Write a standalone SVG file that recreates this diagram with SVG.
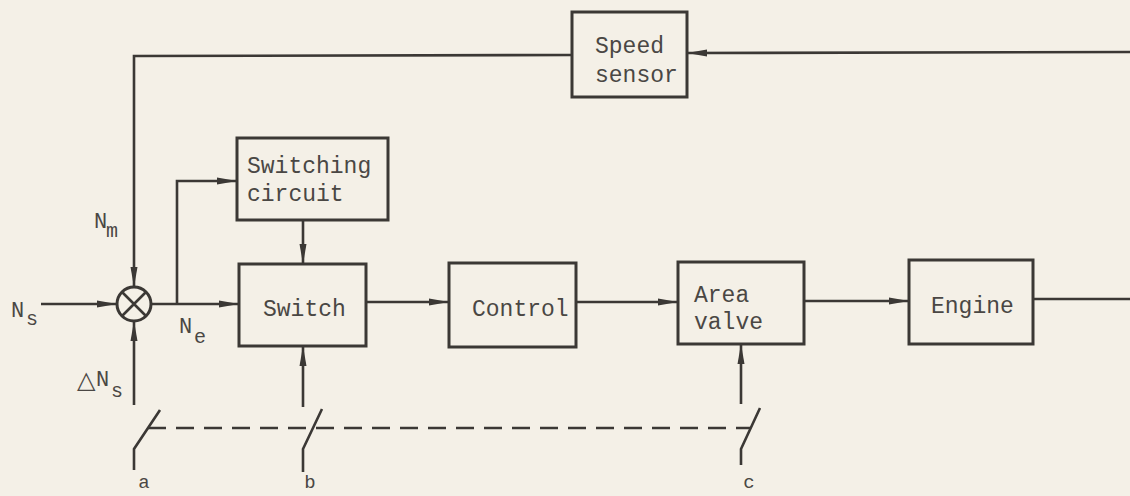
<svg xmlns="http://www.w3.org/2000/svg" width="1130" height="496" viewBox="0 0 1130 496">
<style>
  .box { fill: none; stroke: #3b3835; stroke-width: 3; }
  .ln { fill: none; stroke: #3b3835; stroke-width: 2.6; }
  .arr { marker-end: url(#ah); }
  .dash { fill: none; stroke: #3b3835; stroke-width: 2.6; stroke-dasharray: 18 10; }
  .t { font-family: "Liberation Mono", "DejaVu Sans Mono", monospace; font-size: 23px; fill: #4a4744; }
  .lbl { font-family: "Liberation Mono", "DejaVu Sans Mono", monospace; font-size: 22px; fill: #4a4744; }
  .sub { font-family: "Liberation Mono", "DejaVu Sans Mono", monospace; font-size: 20px; fill: #4a4744; }
  .sw { font-family: "Liberation Mono", "DejaVu Sans Mono", monospace; font-size: 19px; fill: #4a4744; }
  .tri { font-family: "DejaVu Sans", sans-serif; font-size: 24px; fill: #4a4744; }
</style>
<defs>
  <marker id="ah" markerUnits="userSpaceOnUse" markerWidth="20" markerHeight="9" refX="20" refY="4.5" orient="auto">
    <path d="M0,1 L20,4.5 L0,8 z" fill="#3b3835"/>
  </marker>
</defs>
<rect width="1130" height="496" fill="#f4f0e7"/>

<g id="connectors">
  <path class="ln arr" d="M1130,52 L687,53"/>
  <path class="ln arr" d="M572,55 L134,56 L134,287"/>
  <path class="ln arr" d="M41,304 L117,304"/>
  <path class="ln arr" d="M134,405 L134,321"/>
  <path class="ln arr" d="M151,304 L239,304"/>
  <path class="ln arr" d="M177,304 L177,181 L237,181"/>
  <path class="ln arr" d="M303,220 L303,264"/>
  <path class="ln arr" d="M366,302 L449,302"/>
  <path class="ln arr" d="M576,302 L678,302"/>
  <path class="ln arr" d="M804,301 L909,301"/>
  <path class="ln" d="M1033,299 L1130,299"/>
  <path class="ln arr" d="M303,407 L303,346"/>
  <path class="ln arr" d="M741,404 L741,344"/>
  <path class="ln" d="M134,470 L134,449 L160,410"/>
  <path class="ln" d="M303,472 L303,449 L322,409"/>
  <path class="ln" d="M741,465 L741,449 L760,408"/>
  <path class="dash" d="M148,428 L750,428"/>
</g>

<g id="sum">
  <circle cx="134" cy="304" r="17" fill="none" stroke="#3b3835" stroke-width="3"/>
  <path class="ln" d="M122,292 L146,316 M146,292 L122,316"/>
</g>

<g id="speed-sensor">
  <rect class="box" x="572" y="12" width="115" height="85"/>
  <text class="t" x="595" y="53">Speed</text>
  <text class="t" x="595" y="82">sensor</text>
</g>
<g id="switching-circuit">
  <rect class="box" x="237" y="138" width="151" height="82"/>
  <text class="t" x="247" y="173">Switching</text>
  <text class="t" x="247" y="201">circuit</text>
</g>
<g id="switch">
  <rect class="box" x="239" y="264" width="127" height="82"/>
  <text class="t" x="263" y="316">Switch</text>
</g>
<g id="control">
  <rect class="box" x="449" y="263" width="127" height="84"/>
  <text class="t" x="472" y="316">Control</text>
</g>
<g id="area-valve">
  <rect class="box" x="678" y="262" width="126" height="82"/>
  <text class="t" x="694" y="302">Area</text>
  <text class="t" x="694" y="329">valve</text>
</g>
<g id="engine">
  <rect class="box" x="909" y="260" width="124" height="84"/>
  <text class="t" x="931" y="313">Engine</text>
</g>

<g id="labels">
  <text class="lbl" x="11" y="317">N</text><text class="sub" x="26" y="325">s</text>
  <text class="lbl" x="94" y="228">N</text><text class="sub" x="106" y="237">m</text>
  <text class="lbl" x="179" y="333">N</text><text class="sub" x="194" y="343">e</text>
  <text class="tri" x="77" y="388">&#9651;</text><text class="lbl" x="96" y="386">N</text><text class="sub" x="111" y="397">s</text>
  <text class="sw" x="144" y="488" text-anchor="middle">a</text>
  <text class="sw" x="310" y="488" text-anchor="middle">b</text>
  <text class="sw" x="749" y="488" text-anchor="middle">c</text>
</g>
</svg>
